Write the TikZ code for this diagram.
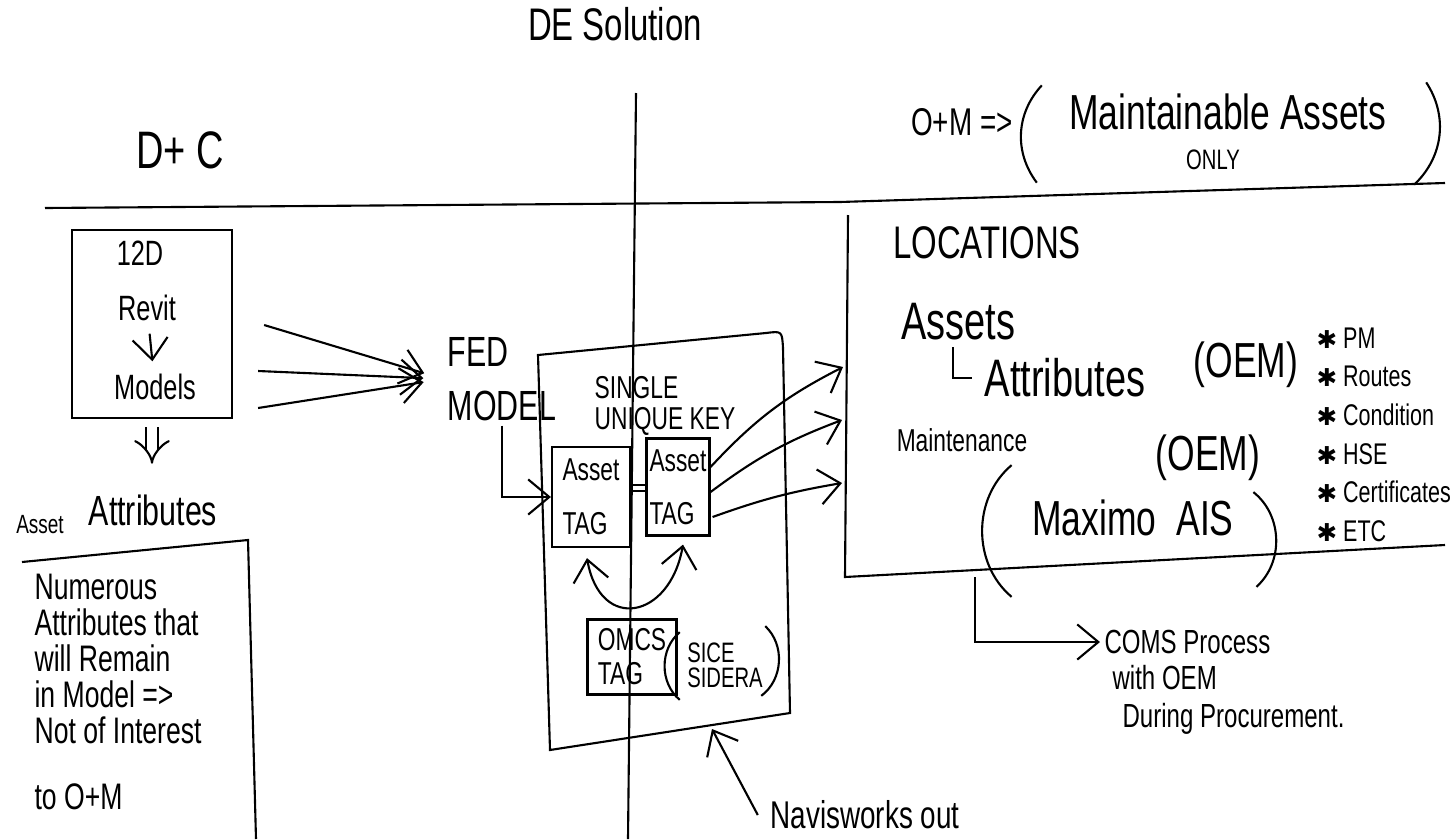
\documentclass[tikz,border=0pt]{standalone}
\usepackage{fontspec}
\setmainfont{Liberation Sans}[FakeStretch=0.72]
\newfontfamily\starfont{DejaVu Sans}
\usetikzlibrary{arrows.meta, positioning, calc}
\newcommand{\hfs}[2]{\fontsize{#1}{#2}\selectfont}
\newcommand{\stb}{{\starfont\hfs{7}{11}✱}}
\tikzset{
  every picture/.style={line width=0.6pt, >={Straight Barb[length=6pt, width=10pt]}},
  hand/.style={inner sep=1pt, align=left},
  tbox/.style={draw, inner sep=0pt, align=left},
  dbl/.style={double, double distance=3pt, -{Implies}},
}

\begin{document}
\begin{tikzpicture}[x=0.01cm, y=-0.01cm]
  \useasboundingbox (0,0) rectangle (1454,839);
  \node[font=\hfs{13}{15}] (title) at (615,24) {DE Solution};
  \draw (636,93) -- (628,839);
  \draw (45,208) -- (840,202) -- (1445,183);
  % D+C side
  \node[font=\hfs{15}{17}] (dc) at (180,150) {D+ C};
  \node[draw, minimum width=1.6cm, minimum height=1.88cm] (rd) at (152,324) {};
  \node[font=\hfs{10}{12}] (n12d) at (140,253) {12D};
  \node[font=\hfs{10}{12}] (revit) at (147,308) {Revit};
  \node[font=\hfs{10}{12}] (models) at (155,387) {Models};
  \draw[->] (revit) -- (models);
  \node[font=\hfs{7.5}{9}] (asset) at (40,525) {Asset};
  \node[font=\hfs{12}{14}] (attr) at (153,510) {Attributes};
  \draw[dbl, shorten <=0.08cm, shorten >=0.18cm] (rd.south) -- (rd.south |- attr.north);
  \draw (22,562) -- (248,540) -- (256,839);
  \node[hand, anchor=north west, font=\hfs{10.5}{10.2}] (num) at (30,570) {Numerous\\Attributes that\\will Remain\\in Model =>\\Not of Interest\\[0.3cm]to O+M};
  % fed model
  \node[hand, font=\hfs{12}{15.5}] (fed) at (502,379) {FED\\MODEL};
  \draw[->, shorten >=0.2cm] ($(rd.east)+(31,1)$) -- (fed.west);
  \draw[->, shorten >=0.2cm] ($(rd.east)+(25,47)$) -- (fed.west);
  \draw[->, shorten >=0.2cm] ($(rd.east)+(25,84)$) -- (fed.west);
  \draw (538,355) -- (766,333) .. controls (782,331) .. (783,348) -- (790,713) -- (550,750) -- cycle;
  \node[hand, font=\hfs{9}{9}] (key) at (665,406) {SINGLE\\UNIQUE KEY};
  \node[tbox, minimum width=0.78cm, minimum height=1.0cm, font=\hfs{9}{15.5}] (lt) at (591,497) {Asset\\TAG};
  \node[tbox, minimum width=0.63cm, minimum height=0.97cm, font=\hfs{9}{15}] (rt) at (678,487) {Asset\\TAG};
  \draw ($(lt.east)+(0,-12)$) -- ($(rt.west)+(0,-2)$);
  \draw ($(lt.east)+(0,-6)$) -- ($(rt.west)+(0,4)$);
  \draw[->] (fed.south) |- (lt.west);
  \draw[<->] ($(lt.south)+(-4,10)$) to[out=-80, in=-100, looseness=2] ($(rt.south)+(5,8)$);
  \node[tbox, minimum width=0.89cm, minimum height=0.75cm, font=\hfs{9}{9.7}] (omcs) at (632,657) {OMCS\\TAG};
  \node[hand, font=\hfs{8}{7}] (sice) at (725,665) {SICE\\SIDERA};
  \draw ($(sice.north west)+(-3,-6)$) to[bend right=50] ($(sice.south west)+(-3,8)$);
  \draw ($(sice.north east)+(-2,-12)$) to[bend left=50] ($(sice.south east)+(-6,4)$);
  \coordinate (fedbot) at (712,729);
  \node[font=\hfs{11}{13}] (nav) at (865,815) {Navisworks out};
  \draw[->] (nav.west) -- (fedbot);
  \coordinate (om1) at (843,367);
  \coordinate (om2) at (842,420);
  \coordinate (om3) at (842,483);
  \draw[->] ($(rt.east)+(0,-20)$) to[bend left=10] (om1);
  \draw[->] ($(rt.east)+(0,5)$) to[bend left=8] (om2);
  \draw[->] ($(rt.east)+(2,30)$) to[bend left=5] (om3);
  % O+M side
  \node[font=\hfs{11}{13}] (om) at (962,122) {O+M =>};
  \node[inner sep=1pt, font=\hfs{14}{16}] (maint) at (1228,112) {Maintainable Assets};
  \node[inner sep=1pt, font=\hfs{8}{10}] (only) at (1213,160) {ONLY};
  \draw ($(maint.north west)+(-23,-4)$) to[bend right=40] ($(maint.south west)+(-28,48)$);
  \draw ($(maint.north east)+(35,-7)$) to[bend left=40] ($(maint.south east)+(23,50)$);
  \draw (848,215) -- (845,577) -- (1445,545);
  \node[font=\hfs{13}{15}] (loc) at (987,243) {LOCATIONS};
  \node[font=\hfs{15}{17}] (assets) at (958,322) {Assets};
  \node[font=\hfs{15}{17}] (attrs) at (1065,378) {Attributes};
  \draw ($(assets.south)+(-5,-6)$) |- (attrs.west);
  \node[inner sep=1pt, font=\hfs{14}{16}] (oem1) at (1246,365) {(OEM)};
  \node[hand, anchor=north west, font=\hfs{8.5}{11}] (lst) at (1312,323) {\stb{} PM\\\stb{} Routes\\\stb{} Condition\\\stb{} HSE\\\stb{} Certificates\\\stb{} ETC};
  \node[font=\hfs{9}{11}] (mtc) at (962,440) {Maintenance};
  \node[font=\hfs{14}{16}] (oem2) at (1208,458) {(OEM)};
  \node[font=\hfs{14}{16}] (mx) at (1133,518) {Maximo\hspace{0.2cm}AIS};
  \draw ($(mx.north west)+(-8,-22)$) to[bend right=50] ($(mx.south west)+(-8,48)$);
  \draw ($(mx.north east)+(7,5)$) to[bend left=50] ($(mx.south east)+(10,38)$);
  \coordinate (brk) at (975,577);
  \node[hand, anchor=west, font=\hfs{9.5}{11}] (coms) at (1100,642) {COMS Process};
  \node[hand, below right=0.02cm and 0.08cm of coms.south west, font=\hfs{9.5}{11}] (comsb) {with OEM\\\hspace{0.1cm}During Procurement.};
  \draw[->] (brk) |- (coms.west);
\end{tikzpicture}
\end{document}
